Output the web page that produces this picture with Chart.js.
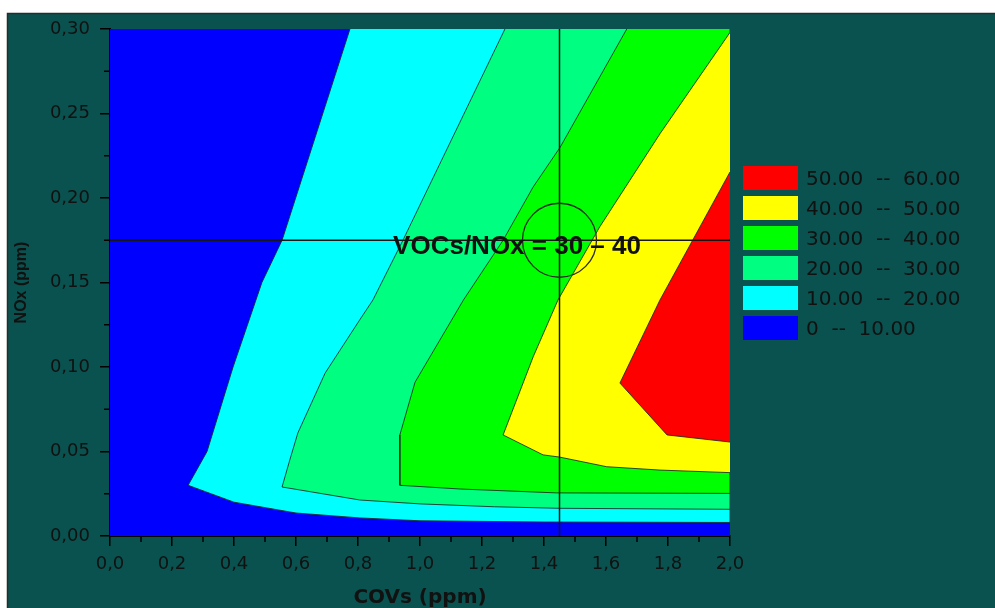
<!DOCTYPE html>
<html>
<head>
<meta charset="utf-8">
<script src="https://cdn.jsdelivr.net/npm/chart.js@4.4.0/dist/chart.umd.min.js"></script>
<style>
    body { margin: 0; background: #fff; }
    #wrap { position: relative; width: 995px; height: 608px; }
    #legend-container { position: absolute; left: 743px; top: 166px; }
</style>
</head>
<body>
<div id="wrap">
    <canvas id="contourChart" width="995" height="608"></canvas>
    <div id="legend-container"></div>
</div>
<script>
// contour bands, lowest first
const levelLabels = ['0  --  10.00', '10.00  --  20.00', '20.00  --  30.00', '30.00  --  40.00', '40.00  --  50.00', '50.00  --  60.00'];
const levelColors = ['#0000ff', '#00ffff', '#00ff80', '#00ff00', '#ffff00', '#ff0000'];

// contour lines (COVs ppm / NOx ppm)
const line10X = [0.774, 0.555, 0.49, 0.397, 0.313, 0.252, 0.40, 0.60, 0.806, 1.0, 1.4, 2.0];
const line10Y = [0.30, 0.175, 0.15, 0.10, 0.050, 0.030, 0.020, 0.0136, 0.0107, 0.009, 0.0083, 0.008];

const line20X = [1.274, 0.945, 0.848, 0.806, 0.694, 0.606, 0.58, 0.555, 0.806, 1.0, 1.24, 1.45, 2.0];
const line20Y = [0.30, 0.175, 0.1396, 0.128, 0.0964, 0.061, 0.045, 0.029, 0.0213, 0.019, 0.0173, 0.0164, 0.0158];

const line30X = [1.667, 1.452, 1.365, 1.268, 1.14, 0.984, 0.935, 0.935, 1.13, 1.44, 2.0];
const line30Y = [0.30, 0.230, 0.2065, 0.175, 0.1396, 0.091, 0.0598, 0.030, 0.0278, 0.0255, 0.0252];

const line40X = [2.0, 1.774, 1.58, 1.445, 1.365, 1.268, 1.397, 1.45, 1.602, 1.774, 2.0];
const line40Y = [0.298, 0.238, 0.183, 0.1396, 0.106, 0.0598, 0.048, 0.0467, 0.041, 0.039, 0.0375];

const line50X = [2.0, 1.774, 1.645, 1.797, 2.0];
const line50Y = [0.2154, 0.1396, 0.0905, 0.0598, 0.0556];

const xMin = 0, xMax = 2.0, yMin = 0, yMax = 0.30;

// marker: VOCs/NOx ratio
const markX = 1.45;
const markY = 0.175;
const noteText = 'VOCs/NOx = 30 – 40';
const noteX = 1.313;
const noteY = 0.171;

const TEAL = '#0a524f';
const INK = '#111';

const toPoints = (xs, ys) => xs.map((x, i) => ({x: x, y: ys[i]}));

// close a contour line against the top/right edges
const band = (xs, ys) => {
    const pts = toPoints(xs, ys);
    if (ys[0] === yMax) {
        pts.push({x: xMax, y: yMax});
    }
    return pts;
};

const bands = [
    [{x: xMin, y: yMin}, {x: xMax, y: yMin}, {x: xMax, y: yMax}, {x: xMin, y: yMax}],
    band(line10X, line10Y),
    band(line20X, line20Y),
    band(line30X, line30Y),
    band(line40X, line40Y),
    band(line50X, line50Y)
];

const bandSets = bands.map((pts, i) => ({
    label: levelLabels[i],
    data: pts,
    backgroundColor: levelColors[i],
    borderColor: 'rgba(25,40,35,0.85)',
    borderWidth: 1,
    fill: 'shape',
    pointRadius: 0,
    order: 20 - i
}));

const getOrCreateLegendList = (id) => {
    const legendContainer = document.getElementById(id);
    let listContainer = legendContainer.querySelector('ul');
    if (!listContainer) {
        listContainer = document.createElement('ul');
        listContainer.style.listStyle = 'none';
        listContainer.style.margin = 0;
        listContainer.style.padding = 0;
        legendContainer.appendChild(listContainer);
    }
    return listContainer;
};

const htmlLegendPlugin = {
    id: 'htmlLegend',
    afterUpdate(chart, args, options) {
        const ul = getOrCreateLegendList(options.containerID);
        while (ul.firstChild) {
            ul.firstChild.remove();
        }
        // sorted by dataset order already -> highest band first
        const items = chart.options.plugins.legend.labels.generateLabels(chart)
            .filter(item => levelLabels.includes(item.text));

        items.forEach(item => {
            const li = document.createElement('li');
            li.style.display = 'flex';
            li.style.alignItems = 'center';
            li.style.height = '24px';
            li.style.marginBottom = '6px';

            const boxSpan = document.createElement('span');
            boxSpan.style.display = 'inline-block';
            boxSpan.style.width = '55px';
            boxSpan.style.height = '24px';
            boxSpan.style.background = item.fillStyle;

            const text = document.createElement('p');
            text.style.margin = '0 0 0 8px';
            text.style.padding = 0;
            text.style.font = '20px "DejaVu Sans", sans-serif';
            text.style.color = INK;
            text.style.whiteSpace = 'pre';
            text.style.lineHeight = '24px';
            text.appendChild(document.createTextNode(item.text));

            li.appendChild(boxSpan);
            li.appendChild(text);
            ul.appendChild(li);
        });
    }
};

const framePlugin = {
    id: 'frame',
    beforeDraw(chart) {
        const {ctx, width, height} = chart;
        ctx.save();
        ctx.fillStyle = '#fff';
        ctx.fillRect(0, 0, width, height);
        ctx.fillStyle = TEAL;
        ctx.fillRect(7, 13, width - 7, height - 13);
        ctx.strokeStyle = '#2b2b2b';
        ctx.lineWidth = 1.5;
        ctx.beginPath();
        ctx.moveTo(7.5, height);
        ctx.lineTo(7.5, 13.5);
        ctx.lineTo(width, 13.5);
        ctx.stroke();
        ctx.restore();
    }
};

// minor ticks + note text
const extrasPlugin = {
    id: 'extras',
    afterDraw(chart) {
        const {ctx, scales: {x, y}} = chart;
        ctx.save();
        ctx.strokeStyle = '#000';
        ctx.lineWidth = 1.5;
        ctx.beginPath();
        for (let v = 0.1; v < xMax; v += 0.2) {
            const px = x.getPixelForValue(v);
            ctx.moveTo(px, y.bottom);
            ctx.lineTo(px, y.bottom + 6);
        }
        for (let v = 0.025; v < yMax; v += 0.05) {
            const py = y.getPixelForValue(v);
            ctx.moveTo(x.left, py);
            ctx.lineTo(x.left - 6, py);
        }
        ctx.stroke();

        ctx.fillStyle = INK;
        ctx.font = 'bold 26px "Liberation Sans", Arial, sans-serif';
        ctx.textAlign = 'center';
        ctx.textBaseline = 'middle';
        ctx.fillText(noteText, x.getPixelForValue(noteX), y.getPixelForValue(noteY));
        ctx.restore();
    }
};

const contourChart = new Chart('contourChart', {
    type: 'line',
    data: {
        datasets: [
            ...bandSets,
            {
                data: [{x: xMin, y: markY}, {x: xMax, y: markY}],
                borderColor: '#151515',
                borderWidth: 1.5,
                pointRadius: 0,
                fill: false,
                order: 3
            },
            {
                data: [{x: markX, y: yMin}, {x: markX, y: yMax}],
                borderColor: '#151515',
                borderWidth: 1.5,
                pointRadius: 0,
                fill: false,
                order: 2
            },
            {
                data: [{x: markX, y: markY}],
                showLine: false,
                pointRadius: 37,
                pointBorderWidth: 1.3,
                pointBorderColor: '#2a2a2a',
                pointBackgroundColor: 'rgba(0,0,0,0)',
                order: 1
            }
        ]
    },
    options: {
        responsive: false,
        animation: false,
        events: [],
        layout: {
            autoPadding: false,
            padding: {left: 0, right: 265, top: 29, bottom: 0}
        },
        scales: {
            x: {
                type: 'linear',
                min: xMin,
                max: xMax,
                afterFit: scale => { scale.height = 72; },
                border: {display: true, color: '#000', width: 2},
                grid: {drawOnChartArea: false, drawTicks: true, tickLength: 10, color: '#000', lineWidth: 1.5},
                ticks: {
                    stepSize: 0.2,
                    padding: 8,
                    color: INK,
                    font: {family: '"DejaVu Sans"', size: 18},
                    callback: v => v.toFixed(1).replace('.', ',')
                },
                title: {
                    display: true,
                    text: 'COVs (ppm)',
                    color: INK,
                    font: {family: '"DejaVu Sans"', size: 20, weight: 'bold'},
                    padding: {top: 0, bottom: -2}
                }
            },
            y: {
                type: 'linear',
                min: yMin,
                max: yMax,
                afterFit: scale => { scale.width = 110; },
                border: {display: true, color: '#000', width: 2},
                grid: {drawOnChartArea: false, drawTicks: true, tickLength: 10, color: '#000', lineWidth: 1.5},
                ticks: {
                    stepSize: 0.05,
                    padding: 10,
                    color: INK,
                    font: {family: '"DejaVu Sans"', size: 18},
                    callback: v => v.toFixed(2).replace('.', ',')
                },
                title: {
                    display: true,
                    text: 'NOx (ppm)',
                    color: INK,
                    font: {family: '"Liberation Sans", Arial', size: 16, weight: 'bold'},
                    padding: {top: 12, bottom: 0}
                }
            }
        },
        plugins: {
            legend: {display: false},
            tooltip: {enabled: false},
            htmlLegend: {containerID: 'legend-container'}
        }
    },
    plugins: [framePlugin, htmlLegendPlugin, extrasPlugin]
});
</script>
</body>
</html>
